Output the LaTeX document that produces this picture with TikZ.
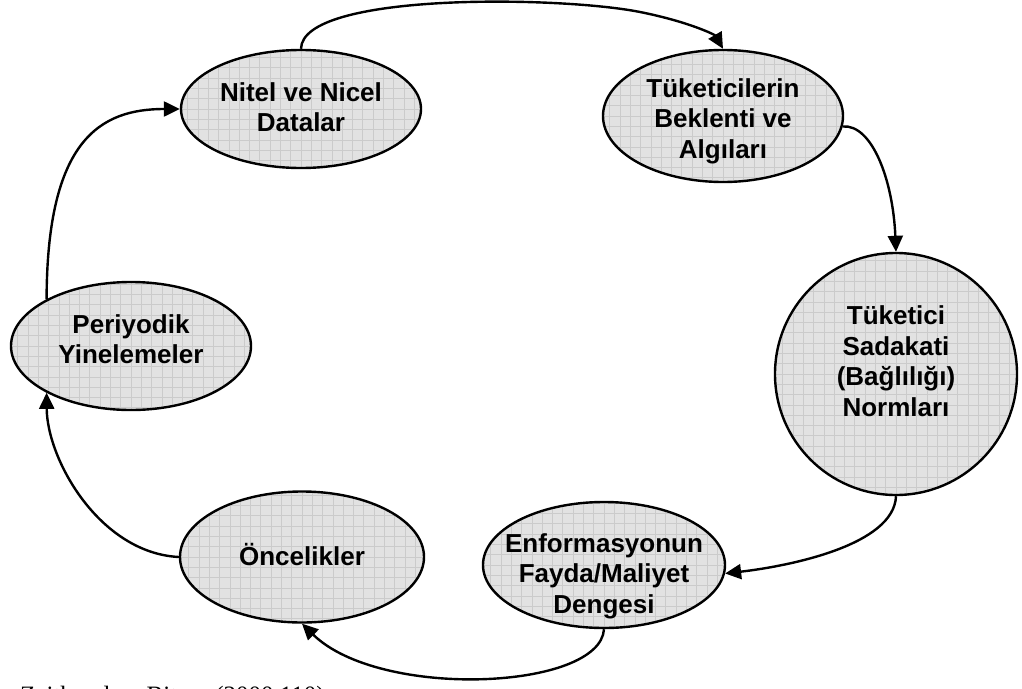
\documentclass[tikz,border=0pt]{standalone}
\usepackage{fontspec}
\setmainfont{Liberation Serif}
\setsansfont{Liberation Sans}
\usetikzlibrary{shapes.geometric,arrows.meta}
\definecolor{cellfill}{RGB}{226,226,226}
\definecolor{cellgrid}{RGB}{203,203,203}
\begin{document}
\begin{tikzpicture}[x=1pt,y=-1pt,
  blob/.style={ellipse, draw=black, line width=2.4pt, fill=cellfill, inner sep=0pt,
    path picture={\draw[cellgrid, line width=0.8pt, step=10.3pt]
      (path picture bounding box.south west) grid (path picture bounding box.north east);}},
  lbl/.style={font=\sffamily\bfseries\fontsize{26}{30.5}\selectfont, align=center, inner sep=0pt},
  conn/.style={line width=2.4pt, -{Triangle[length=16pt,width=15pt]}}]
\useasboundingbox (0,0) rectangle (1022,688);

% cycle stages
\node[blob, minimum width=240pt, minimum height=118pt] (n1) at (301,109) {};
\node[blob, minimum width=240pt, minimum height=132pt] (n2) at (723,116) {};
\node[blob, minimum width=242pt, minimum height=242pt] (n3) at (896,374) {};
\node[blob, minimum width=242pt, minimum height=126pt] (n4) at (604,565) {};
\node[blob, minimum width=244pt, minimum height=131pt] (n5) at (302,557) {};
\node[blob, minimum width=240pt, minimum height=128pt] (n6) at (131,346) {};

\node[lbl] (t1) at (301,107) {Nitel ve Nicel\\Datalar};
\node[lbl] (t2) at (723,121) {Tüketicilerin\\Beklenti ve\\Algıları};
\node[lbl] (t3) at (896,361) {Tüketici\\Sadakati\\(Bağlılığı)\\Normları};
\node[lbl] (t4) at (604,576) {Enformasyonun\\Fayda/Maliyet\\Dengesi};
\node[lbl] (t5) at (302,555) {Öncelikler};
\node[lbl] (t6) at (131,339) {Periyodik\\Yinelemeler};

% connectors around the cycle
\draw[conn] (n1.north) .. controls (302,-8) and (560,-4) .. (640,12)
            .. controls (690,22) and (715,35) .. (n2.north);
\draw[conn] (n2.-5) .. controls (872,124) and (893,180) .. (n3.north);
\draw[conn] (n3.south) .. controls (894,545) and (790,566) .. (n4.-4);
\draw[conn] (n4.south) .. controls (600,690) and (380,700) .. (n5.south);
\draw[conn] (n5.west) .. controls (100,553) and (47,460) .. (n6.209);
\draw[conn] (n6.151) .. controls (47,140) and (100,109) .. (n1.west);

% source line, running off the lower edge
\node[anchor=base west, inner sep=0pt, font=\fontsize{25}{30}\selectfont] (src) at (20,703) {Zeithaml ve Bitner (2000,110)};
\end{tikzpicture}
\end{document}
